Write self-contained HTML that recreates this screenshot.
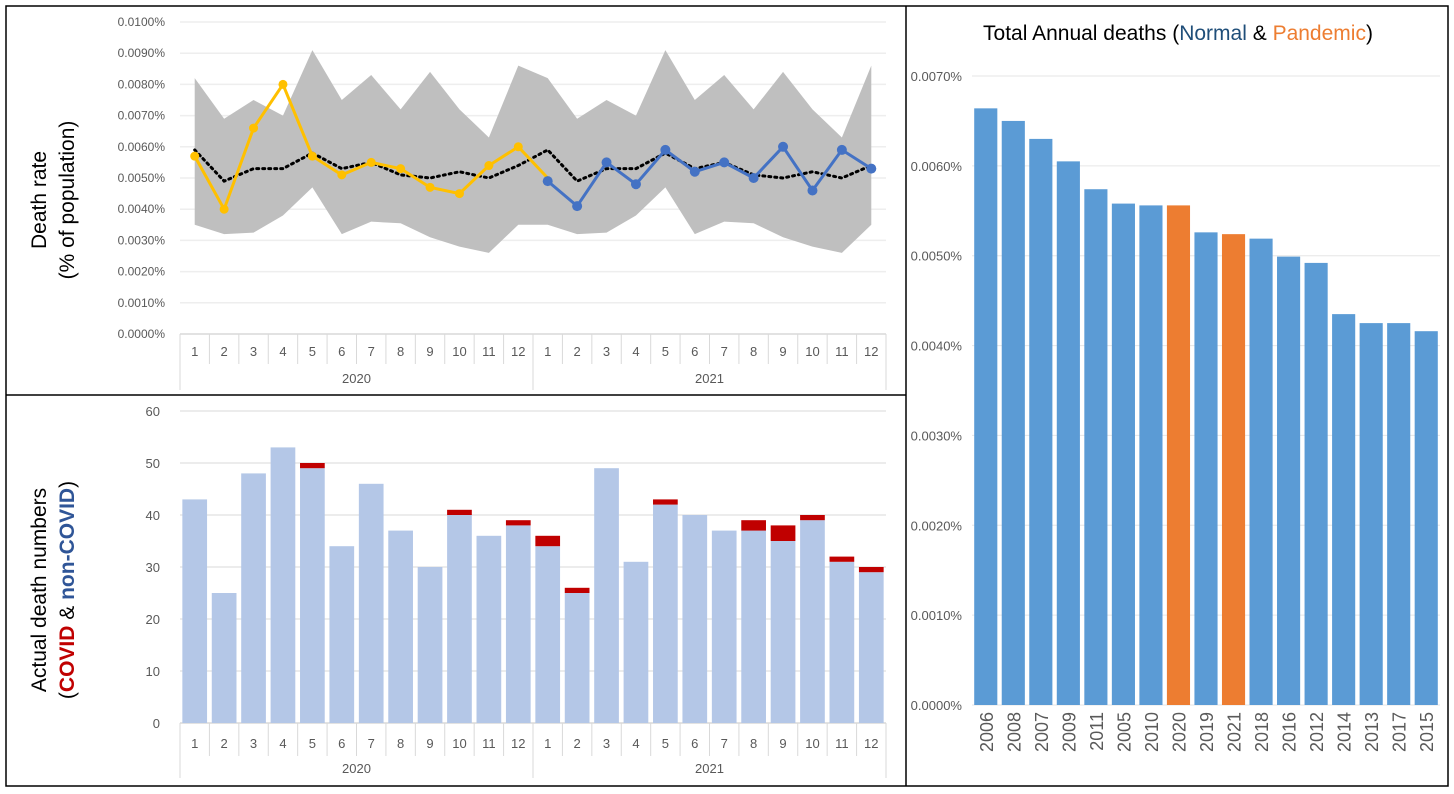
<!DOCTYPE html>
<html><head><meta charset="utf-8"><style>
html,body{margin:0;padding:0;background:#fff}
svg{display:block;font-family:"Liberation Sans",sans-serif}
</style></head><body>
<svg id="c" width="1454" height="794" viewBox="0 0 1454 794" xmlns="http://www.w3.org/2000/svg">
<rect x="0" y="0" width="1454" height="794" fill="#fff"/>
<g id="top"></g>
<g id="bot"></g>
<g id="right"></g>
<g fill="none" stroke="#000" stroke-width="1.5">
<rect x="6" y="6" width="1442" height="780"/>
<line x1="906" y1="6" x2="906" y2="786"/>
<line x1="6" y1="395" x2="906" y2="395"/>
</g>
<text transform="translate(50,200) rotate(-90)" text-anchor="middle" font-size="21" fill="#000"><tspan x="0" dy="-4">Death rate</tspan><tspan x="0" dy="28">(% of population)</tspan></text>
<text transform="translate(50,590) rotate(-90)" text-anchor="middle" font-size="21" fill="#000"><tspan x="0" dy="-4">Actual death numbers</tspan><tspan x="0" dy="28">(<tspan fill="#c00000" font-weight="bold">COVID</tspan> &amp; <tspan fill="#2f5597" font-weight="bold">non-COVID</tspan>)</tspan></text>
<text x="1178" y="40" text-anchor="middle" font-size="21" fill="#000">Total Annual deaths (<tspan fill="#1f4e79">Normal</tspan> &amp; <tspan fill="#ed7d31">Pandemic</tspan>)</text>
</svg>
<script>
const months=[1,2,3,4,5,6,7,8,9,10,11,12,1,2,3,4,5,6,7,8,9,10,11,12];
const years=["2020","2021"];
const bandUpper=[0.0082,0.0069,0.0075,0.0070,0.0091,0.0075,0.0083,0.0072,0.0084,0.0072,0.0063,0.0086,0.0082,0.0069,0.0075,0.0070,0.0091,0.0075,0.0083,0.0072,0.0084,0.0072,0.0063,0.0086];
const bandLower=[0.0035,0.0032,0.00325,0.0038,0.0047,0.0032,0.0036,0.00355,0.0031,0.0028,0.0026,0.0035,0.0035,0.0032,0.00325,0.0038,0.0047,0.0032,0.0036,0.00355,0.0031,0.0028,0.0026,0.0035];
const avgRate=[0.0059,0.0049,0.0053,0.0053,0.0058,0.0053,0.0055,0.0051,0.0050,0.0052,0.0050,0.0054,0.0059,0.0049,0.0053,0.0053,0.0058,0.0053,0.0055,0.0051,0.0050,0.0052,0.0050,0.0054];
const rate2020=[0.0057,0.0040,0.0066,0.0080,0.0057,0.0051,0.0055,0.0053,0.0047,0.0045,0.0054,0.0060,0.0050];
const rate2021=[0.0049,0.0041,0.0055,0.0048,0.0059,0.0052,0.0055,0.0050,0.0060,0.0046,0.0059,0.0053];
const rateTicks=["0.0000%","0.0010%","0.0020%","0.0030%","0.0040%","0.0050%","0.0060%","0.0070%","0.0080%","0.0090%","0.0100%"];
const nonCovid=[43,25,48,53,49,34,46,37,30,40,36,38,34,25,49,31,42,40,37,37,35,39,31,29];
const covid=[0,0,0,0,1,0,0,0,0,1,0,1,2,1,0,0,1,0,0,2,3,1,1,1];
const countTicks=["0","10","20","30","40","50","60"];
const annualYears=["2006","2008","2007","2009","2011","2005","2010","2020","2019","2021","2018","2016","2012","2014","2013","2017","2015"];
const annualRate=[0.00664,0.00650,0.00630,0.00605,0.00574,0.00558,0.00556,0.00556,0.00526,0.00524,0.00519,0.00499,0.00492,0.00435,0.00425,0.00425,0.00416];
const pandemicYears=["2020","2021"];
const annualTicks=["0.0000%","0.0010%","0.0020%","0.0030%","0.0040%","0.0050%","0.0060%","0.0070%"];

const NS="http://www.w3.org/2000/svg";
function mk(p,tag,a,txt){const e=document.createElementNS(NS,tag);for(const k in a)e.setAttribute(k,a[k]);if(txt!=null)e.textContent=txt;p.appendChild(e);return e;}

// shared x axis for left charts
const PX0=180,PX1=886,N=months.length,PW=(PX1-PX0)/N;
const xc=i=>PX0+PW*(i+0.5);

function catAxis(g,baseY,mY,yY,bottomY){
  months.forEach((m,i)=>{
    const t=mk(g,'text',{x:xc(i),y:mY,'text-anchor':'middle','font-size':13,fill:'#595959'},m);
    
    
  });
  for(let i=0;i<=N;i++){
    const big=(i%12===0);
    const l=mk(g,'line',{x1:PX0+PW*i,x2:PX0+PW*i,y1:baseY,y2:big?bottomY:mY+8,stroke:'#d9d9d9','stroke-width':1});
    
    
  }
  years.forEach((y,k)=>{
    const t=mk(g,'text',{x:PX0+PW*(12*k+6),y:yY,'text-anchor':'middle','font-size':13,fill:'#595959'},y);
    
    
  });
}

// TOP chart
(function(){
  const g=document.getElementById('top');
  const Y0=334,Y1=22,MAX=0.0100;
  const y=v=>Y0-(v/MAX)*(Y0-Y1);
  rateTicks.forEach((t,i)=>{
    const v=i*0.0010, yy=y(v);
    const gl=mk(g,'line',{x1:PX0,x2:PX1,y1:yy,y2:yy,stroke:i===0?'#d9d9d9':'#eeeeee','stroke-width':1.5});
    
    
    const tl=mk(g,'text',{x:165,y:yy+4,'text-anchor':'end','font-size':12,fill:'#595959'},t);
    
    
  });
  let pts=bandUpper.map((v,i)=>xc(i)+','+y(v));
  for(let i=bandLower.length-1;i>=0;i--)pts.push(xc(i)+','+y(bandLower[i]));
  const band=mk(g,'polygon',{points:pts.join(' '),fill:'#bfbfbf'});
  
  
  const avg=mk(g,'polyline',{points:avgRate.map((v,i)=>xc(i)+','+y(v)).join(' '),fill:'none',stroke:'#000','stroke-width':3,'stroke-dasharray':'2 4','stroke-linecap':'round'});
  
  
  const l20=mk(g,'polyline',{points:rate2020.map((v,i)=>xc(i)+','+y(v)).join(' '),fill:'none',stroke:'#ffc000','stroke-width':3});
  
  
  rate2020.slice(0,12).forEach((v,i)=>{
    const c=mk(g,'circle',{cx:xc(i),cy:y(v),r:4.5,fill:'#ffc000'});
    
    
  });
  const l21=mk(g,'polyline',{points:rate2021.map((v,i)=>xc(i+12)+','+y(v)).join(' '),fill:'none',stroke:'#4472c4','stroke-width':3});
  
  
  rate2021.forEach((v,i)=>{
    const c=mk(g,'circle',{cx:xc(i+12),cy:y(v),r:5,fill:'#4472c4'});
    
    
  });
  catAxis(g,Y0,356,383,390);
})();

// BOTTOM chart
(function(){
  const g=document.getElementById('bot');
  const Y0=723,Y1=411,MAX=60;
  const y=v=>Y0-(v/MAX)*(Y0-Y1);
  countTicks.forEach((t,i)=>{
    const yy=y(+t);
    const gl=mk(g,'line',{x1:PX0,x2:PX1,y1:yy,y2:yy,stroke:i===0?'#d9d9d9':'#e6e6e6','stroke-width':1.5});
    
    
    const tl=mk(g,'text',{x:160,y:yy+5,'text-anchor':'end','font-size':13,fill:'#595959'},t);
    
    
  });
  const bw=PW*0.84;
  nonCovid.forEach((v,i)=>{
    const r=mk(g,'rect',{x:xc(i)-bw/2,y:y(v),width:bw,height:Y0-y(v),fill:'#b4c7e7'});
    
    
    if(covid[i]>0){
      const c=mk(g,'rect',{x:xc(i)-bw/2,y:y(v+covid[i]),width:bw,height:y(v)-y(v+covid[i]),fill:'#c00000'});
      
      
    }
  });
  catAxis(g,Y0,748,773,778);
})();

// RIGHT chart
(function(){
  const g=document.getElementById('right');
  const Y0=705,Y1=76,MAX=0.0070,X0=972,X1=1440;
  const y=v=>Y0-(v/MAX)*(Y0-Y1);
  const pw=(X1-X0)/annualYears.length, bw=pw*0.84;
  annualTicks.forEach((t,i)=>{
    const yy=y(i*0.0010);
    const gl=mk(g,'line',{x1:X0,x2:X1,y1:yy,y2:yy,stroke:'#e6e6e6','stroke-width':1});
    
    
    const tl=mk(g,'text',{x:962,y:yy+5,'text-anchor':'end','font-size':13,fill:'#595959'},t);
    
    
  });
  annualYears.forEach((yr,i)=>{
    const cx=X0+pw*(i+0.5), v=annualRate[i];
    const r=mk(g,'rect',{x:cx-bw/2,y:y(v),width:bw,height:Y0-y(v),fill:pandemicYears.includes(yr)?'#ed7d31':'#5b9bd5'});
    
    
    const t=mk(g,'text',{transform:`translate(${cx+7},712) rotate(-90)`,'text-anchor':'end','font-size':18,fill:'#595959'},yr);
    
    
  });
})();
</script>
</body></html>
